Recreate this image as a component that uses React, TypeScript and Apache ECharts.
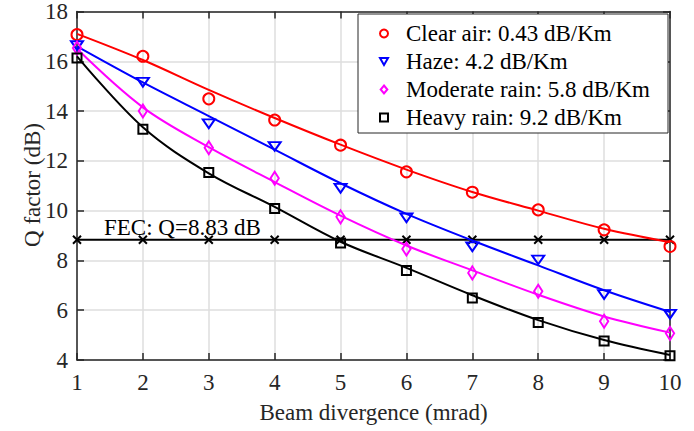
import React, { useEffect, useRef } from "react";
import * as echarts from "echarts";

const beamDivergence = [1, 2, 3, 4, 5, 6, 7, 8, 9, 10];
const xTicks = [1, 2, 3, 4, 5, 6, 7, 8, 9, 10];
const yTicks = [4, 6, 8, 10, 12, 14, 16, 18];

const seriesNames = [
  "Clear air: 0.43 dB/Km",
  "Haze: 4.2 dB/Km",
  "Moderate rain: 5.8 dB/Km",
  "Heavy rain: 9.2 dB/Km",
];

// measured markers
const clearAirPts = [17.07, 16.2, 14.49, 13.64, 12.63, 11.56, 10.74, 10.03, 9.23, 8.56];
const hazePts = [16.63, 15.16, 13.49, 12.58, 10.9, 9.71, 8.55, 8.02, 6.63, 5.84];
const moderatePts = [16.53, 14.0, 12.53, 11.3, 9.75, 8.46, 7.5, 6.76, 5.56, 5.07];
const heavyPts = [16.13, 13.27, 11.53, 10.09, 8.7, 7.6, 6.49, 5.51, 4.76, 4.17];

// fitted curves (read at integer x)
const clearAirFit = [17.1, 16.05, 14.85, 13.72, 12.65, 11.65, 10.75, 10.0, 9.27, 8.73];
const hazeFit = [16.6, 15.15, 13.8, 12.45, 11.1, 9.87, 8.8, 7.8, 6.8, 5.93];
const moderateFit = [16.5, 14.15, 12.55, 11.15, 9.8, 8.6, 7.6, 6.62, 5.75, 5.1];
const heavyFit = [16.2, 13.35, 11.5, 10.15, 8.75, 7.7, 6.6, 5.6, 4.8, 4.2];

const fecThreshold = [8.83, 8.83, 8.83, 8.83, 8.83, 8.83, 8.83, 8.83, 8.83, 8.83];
const fecLabel = "FEC: Q=8.83 dB";
const xAxisTitle = "Beam divergence (mrad)";
const yAxisTitle = "Q factor (dB)";

const colors = ["#ff0000", "#0000ff", "#ff00ff", "#000000"];
const symbols = [
  "circle",
  "path://M0,0L10,0L5,8.7Z",
  "path://M5,0L10,6L5,12L0,6Z",
  "rect",
];
const symbolSizes: any[] = [11, [12, 10], [10, 13], 9];
const legendIcons = [
  "circle",
  "path://M0,0L10,0L5,8.7Z",
  "path://M5,0L10,6L5,12L0,6Z",
  "rect",
];

const FONT = "Liberation Serif";
const TXT = "#262626";

function pairs(ys: number[]) {
  return beamDivergence.map((x, i) => [x, ys[i]]);
}

export default function App() {
  const ref = useRef<HTMLDivElement>(null);

  useEffect(() => {
    if (!ref.current) return;
    const chart = echarts.init(ref.current, undefined, { renderer: "svg" });
    const pts = [clearAirPts, hazePts, moderatePts, heavyPts];
    const fits = [clearAirFit, hazeFit, moderateFit, heavyFit];

    const series: any[] = [];
    fits.forEach((f, i) => {
      series.push({
        type: "line",
        name: "fit" + i,
        data: pairs(f),
        smooth: 0.35,
        showSymbol: false,
        symbol: "none",
        lineStyle: { color: colors[i], width: 2 },
        itemStyle: { color: colors[i] },
        z: 3,
      });
    });
    series.push({
      type: "line",
      name: "FEC",
      data: pairs(fecThreshold),
      symbol: "path://M0,0L10,10M10,0L0,10",
      symbolSize: 8,
      lineStyle: { color: "#000", width: 2 },
      itemStyle: { color: "rgba(0,0,0,0)", borderColor: "#000", borderWidth: 2 },
      z: 2,
    });
    pts.forEach((p, i) => {
      series.push({
        type: "scatter",
        name: seriesNames[i],
        data: pairs(p),
        symbol: symbols[i],
        symbolSize: symbolSizes[i],
        symbolKeepAspect: true,
        itemStyle: {
          color: "rgba(0,0,0,0)",
          borderColor: colors[i],
          borderWidth: 2,
          opacity: 1,
        },
        z: 4,
      });
    });

    const axisLine = { show: true, onZero: false, lineStyle: { color: TXT, width: 1.5 } };
    const axisTick = { show: true, inside: true, length: 7, lineStyle: { color: TXT, width: 1.5 } };

    chart.setOption({
      animation: false,
      backgroundColor: "#ffffff",
      grid: { left: 77, right: 24, top: 10, bottom: 71, containLabel: false },
      xAxis: [
        {
          type: "value",
          min: 1,
          max: 10,
          interval: 1,
          position: "bottom",
          name: xAxisTitle,
          nameLocation: "middle",
          nameGap: 41,
          nameTextStyle: { fontFamily: FONT, fontSize: 23, color: TXT },
          axisLine,
          axisTick,
          axisLabel: {
            fontFamily: FONT,
            fontSize: 23,
            color: TXT,
            margin: 11,
            formatter: (v: number) => (xTicks.includes(v) ? String(v) : ""),
          },
          splitLine: { show: true, lineStyle: { color: "#dedede", width: 1.5 } },
        },
        {
          type: "value",
          min: 1,
          max: 10,
          interval: 1,
          position: "top",
          axisLine,
          axisTick,
          axisLabel: { show: false },
          splitLine: { show: false },
        },
      ],
      yAxis: [
        {
          type: "value",
          min: 4,
          max: 18,
          interval: 2,
          position: "left",
          axisLine,
          axisTick,
          axisLabel: {
            fontFamily: FONT,
            fontSize: 23,
            color: TXT,
            margin: 9,
            formatter: (v: number) => (yTicks.includes(v) ? String(v) : ""),
          },
          splitLine: { show: true, lineStyle: { color: "#dedede", width: 1.5 } },
        },
        {
          type: "value",
          min: 4,
          max: 18,
          interval: 2,
          position: "right",
          axisLine,
          axisTick,
          axisLabel: { show: false },
          splitLine: { show: false },
        },
      ],
      legend: {
        data: seriesNames.map((n, i) => ({ name: n, icon: legendIcons[i] })),
        orient: "vertical",
        left: 358,
        top: 14,
        backgroundColor: "#ffffff",
        borderColor: TXT,
        borderWidth: 1,
        borderRadius: 0,
        padding: [8, 18, 4, 21],
        itemGap: 5,
        itemWidth: 8,
        itemHeight: 8,
        itemStyle: { borderWidth: 2 },
        textStyle: {
          fontFamily: FONT,
          fontSize: 23,
          lineHeight: 23,
          color: "#000",
          padding: [0, 0, 0, 13],
        },
      },
      graphic: [
        {
          type: "text",
          left: 104,
          top: 216,
          style: { text: fecLabel, font: `23px '${FONT}'`, fill: "#000" },
          z: 10,
        },
        {
          type: "text",
          x: 32,
          y: 185,
          rotation: Math.PI / 2,
          style: {
            text: yAxisTitle,
            font: `23px '${FONT}'`,
            fill: TXT,
            align: "center",
            verticalAlign: "middle",
          },
          z: 10,
        },
      ],
      series,
    });
    return () => chart.dispose();
  }, []);

  return (
    <div
      ref={ref}
      style={{ position: "fixed", left: 0, top: 0, width: 694, height: 431 }}
    />
  );
}
